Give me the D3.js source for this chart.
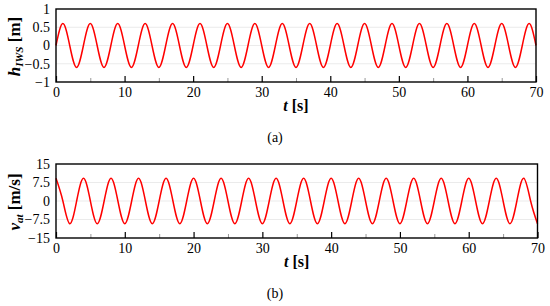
<!DOCTYPE html>
<html>
<head>
<meta charset="utf-8">
<script src="https://cdn.jsdelivr.net/npm/d3@7"></script>
<style>
    body { margin: 0; background: #fff; }
    svg { display: block; }
</style>
</head>
<body>
<script>
// time [s], one sample per quarter period
const timeS = [
    0, 1, 2, 3, 4, 5, 6, 7, 8, 9,
    10, 11, 12, 13, 14, 15, 16, 17, 18, 19,
    20, 21, 22, 23, 24, 25, 26, 27, 28, 29,
    30, 31, 32, 33, 34, 35, 36, 37, 38, 39,
    40, 41, 42, 43, 44, 45, 46, 47, 48, 49,
    50, 51, 52, 53, 54, 55, 56, 57, 58, 59,
    60, 61, 62, 63, 64, 65, 66, 67, 68, 69,
    70
];

// (a) free surface elevation [m]
const hIws = [
    0, 0.6, 0, -0.6, 0, 0.6, 0, -0.6,
    0, 0.6, 0, -0.6, 0, 0.6, 0, -0.6,
    0, 0.6, 0, -0.6, 0, 0.6, 0, -0.6,
    0, 0.6, 0, -0.6, 0, 0.6, 0, -0.6,
    0, 0.6, 0, -0.6, 0, 0.6, 0, -0.6,
    0, 0.6, 0, -0.6, 0, 0.6, 0, -0.6,
    0, 0.6, 0, -0.6, 0, 0.6, 0, -0.6,
    0, 0.6, 0, -0.6, 0, 0.6, 0, -0.6,
    0, 0.6, 0, -0.6, 0, 0.6, 0
];

// (b) velocity [m/s]
const vAt = [
    9.2, 0, -9.2, 0, 9.2, 0, -9.2, 0,
    9.2, 0, -9.2, 0, 9.2, 0, -9.2, 0,
    9.2, 0, -9.2, 0, 9.2, 0, -9.2, 0,
    9.2, 0, -9.2, 0, 9.2, 0, -9.2, 0,
    9.2, 0, -9.2, 0, 9.2, 0, -9.2, 0,
    9.2, 0, -9.2, 0, 9.2, 0, -9.2, 0,
    9.2, 0, -9.2, 0, 9.2, 0, -9.2, 0,
    9.2, 0, -9.2, 0, 9.2, 0, -9.2, 0,
    9.2, 0, -9.2, 0, 9.2, 0, -9.2
];

const xMajor = [0, 10, 20, 30, 40, 50, 60, 70];
const xMinor = [5, 15, 25, 35, 45, 55, 65];
const yTicksA = [-1, -0.5, 0, 0.5, 1];
const yLabelsA = ["\u22121", "\u22120.5", "0", "0.5", "1"];
const yTicksB = [-15, -7.5, 0, 7.5, 15];
const yLabelsB = ["\u221215", "\u22127.5", "0", "7.5", "15"];

const width = 550;
const height = 306;
const serif = "'Liberation Serif', 'Times New Roman', Times, serif";

const svg = d3.select("body")
    .append("svg")
    .attr("width", width)
    .attr("height", height)
    .attr("font-family", serif);

function drawPanel(p) {
    const x = d3.scaleLinear().domain([0, 70]).range([p.left, p.right]);
    const y = d3.scaleLinear().domain(p.yDomain).range([p.bottom, p.top]);
    const g = svg.append("g");

    // faint grid lines
    g.selectAll(".grid")
        .data(p.yTicks.slice(1, -1))
        .enter()
        .append("line")
        .attr("x1", p.left)
        .attr("x2", p.right)
        .attr("y1", d => y(d))
        .attr("y2", d => y(d))
        .style("stroke", "#e6e6e6")
        .style("stroke-width", 0.8);

    // minor ticks (grey)
    g.append("g")
        .attr("transform", "translate(0," + p.bottom + ")")
        .call(d3.axisBottom(x).tickValues(xMinor).tickSize(-4).tickFormat(""))
        .call(a => a.select(".domain").remove())
        .call(a => a.selectAll("line").style("stroke", "#999").style("stroke-width", 1));

    // major ticks + labels
    g.append("g")
        .attr("transform", "translate(0," + p.bottom + ")")
        .call(d3.axisBottom(x).tickValues(xMajor).tickSize(-6).tickFormat(d3.format("d")))
        .call(a => a.select(".domain").remove())
        .call(a => a.selectAll("line").style("stroke", "#000").style("stroke-width", 1.2))
        .call(a => a.selectAll("text").attr("y", 5).attr("dy", "0.71em")
            .style("font-family", serif).style("font-size", "14px").style("fill", "#000"));

    g.append("g")
        .attr("transform", "translate(" + p.left + ",0)")
        .call(d3.axisLeft(y).tickValues(p.yTicks).tickSize(0).tickPadding(6)
            .tickFormat((d, i) => p.yLabels[i]))
        .call(a => a.select(".domain").remove())
        .call(a => a.selectAll("text")
            .style("font-family", serif).style("font-size", "14px").style("fill", "#000"));

    // data line
    const line = d3.line()
        .x((d, i) => x(timeS[i]))
        .y(d => y(d))
        .curve(d3.curveNatural);

    g.append("path")
        .datum(p.values)
        .attr("d", line)
        .style("fill", "none")
        .style("stroke", "#ff0000")
        .style("stroke-width", 1.5);

    // frame
    g.append("rect")
        .attr("x", p.left)
        .attr("y", p.top)
        .attr("width", p.right - p.left)
        .attr("height", p.bottom - p.top)
        .style("fill", "none")
        .style("stroke", "#000")
        .style("stroke-width", 1.4);

    // x label
    const xl = g.append("text")
        .attr("x", (p.left + p.right) / 2)
        .attr("y", p.bottom + 29)
        .attr("text-anchor", "middle")
        .style("font-family", serif)
        .style("font-weight", "bold")
        .style("font-size", "16px");
    xl.append("tspan").style("font-style", "italic").text("t");
    xl.append("tspan").text(" [s]");

    // y label
    const yl = g.append("text")
        .attr("transform", "translate(20," + ((p.top + p.bottom) / 2 + 1) + ") rotate(-90)")
        .attr("text-anchor", "middle")
        .style("font-family", serif)
        .style("font-weight", "bold")
        .style("font-size", "17px");
    yl.append("tspan").style("font-style", "italic").text(p.yName);
    yl.append("tspan").style("font-style", "italic").style("font-size", "11px")
        .attr("dy", 3).text(p.ySub);
    yl.append("tspan").attr("dy", -3).text(" " + p.yUnit);

    // caption
    svg.append("text")
        .attr("x", 275)
        .attr("y", p.capY)
        .attr("text-anchor", "middle")
        .style("font-family", serif)
        .style("font-size", "14px")
        .text(p.caption);
}

drawPanel({
    left: 56, right: 536, top: 9, bottom: 82,
    yDomain: [-1, 1], yTicks: yTicksA, yLabels: yLabelsA,
    values: hIws, yName: "h", ySub: "IWS", yUnit: "[m]",
    caption: "(a)", capY: 142
});

drawPanel({
    left: 56, right: 537.5, top: 164, bottom: 238,
    yDomain: [-15, 15], yTicks: yTicksB, yLabels: yLabelsB,
    values: vAt, yName: "v", ySub: "at", yUnit: "[m/s]",
    caption: "(b)", capY: 298
});
</script>
</body>
</html>
